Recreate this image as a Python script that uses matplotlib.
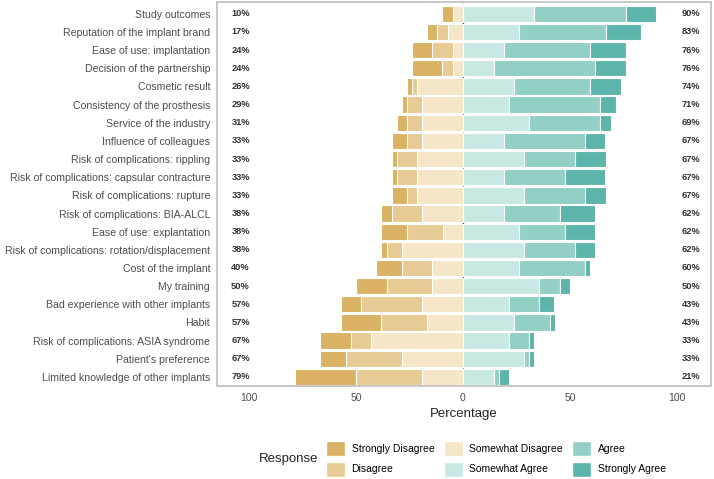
import numpy as np
import matplotlib
matplotlib.use('Agg')
import matplotlib.pyplot as plt
from matplotlib.patches import Patch

plt.rcParams['font.family'] = ['Liberation Sans', 'DejaVu Sans']

items = [
    'Study outcomes', 'Reputation of the implant brand', 'Ease of use: implantation',
    'Decision of the partnership', 'Cosmetic result', 'Consistency of the prosthesis',
    'Service of the industry', 'Influence of colleagues', 'Risk of complications: rippling',
    'Risk of complications: capsular contracture', 'Risk of complications: rupture',
    'Risk of complications: BIA-ALCL', 'Ease of use: explantation',
    'Risk of complications: rotation/displacement', 'Cost of the implant', 'My training',
    'Bad experience with other implants', 'Habit', 'Risk of complications: ASIA syndrome',
    "Patient's preference", 'Limited knowledge of other implants',
]

# percentages
strongly_disagree = [4.8, 4.8, 9.5, 14.3, 2.4, 2.4, 4.8, 7.1, 2.4, 2.4, 7.1,
                     4.8, 11.9, 2.4, 11.9, 14.3, 9.5, 19.0, 14.3, 11.9, 28.6]
disagree = [0.0, 4.8, 9.5, 4.8, 2.4, 7.1, 7.1, 7.1, 9.5, 9.5, 4.8,
            14.3, 16.7, 7.1, 14.3, 21.4, 28.6, 21.4, 9.5, 26.2, 31.0]
somewhat_disagree = [4.8, 7.1, 4.8, 4.8, 21.4, 19.0, 19.0, 19.0, 21.4, 21.4, 21.4,
                     19.0, 9.5, 28.6, 14.3, 14.3, 19.0, 16.7, 42.9, 28.6, 19.0]
somewhat_agree = [33.3, 26.2, 19.0, 14.3, 23.8, 21.4, 31.0, 19.0, 28.6, 19.0, 28.6,
                  19.0, 26.2, 28.6, 26.2, 35.7, 21.4, 23.8, 21.4, 28.6, 14.3]
agree = [42.9, 40.5, 40.5, 47.6, 35.7, 42.9, 33.3, 38.1, 23.8, 28.6, 28.6,
         26.2, 21.4, 23.8, 31.0, 9.5, 14.3, 16.7, 9.5, 2.4, 2.4]
strongly_agree = [14.3, 16.7, 16.7, 14.3, 14.3, 7.1, 4.8, 9.5, 14.3, 19.0, 9.5,
                  16.7, 14.3, 9.5, 2.4, 4.8, 7.1, 2.4, 2.4, 2.4, 4.8]
left_labels = ['10%', '17%', '24%', '24%', '26%', '29%', '31%', '33%', '33%', '33%', '33%',
               '38%', '38%', '38%', '40%', '50%', '57%', '57%', '67%', '67%', '79%']
right_labels = ['90%', '83%', '76%', '76%', '74%', '71%', '69%', '67%', '67%', '67%', '67%',
                '62%', '62%', '62%', '60%', '50%', '43%', '43%', '33%', '33%', '21%']

responses = ['Strongly Disagree', 'Disagree', 'Somewhat Disagree',
             'Somewhat Agree', 'Agree', 'Strongly Agree']
colors = ['#DAB263', '#E8CA94', '#F6E6C8', '#C8E8E4', '#92D0C6', '#5DB4AA']

fig = plt.figure(figsize=(7.14, 4.79), dpi=100)
ax = fig.add_axes([217 / 714, 93 / 479, 494 / 714, 384 / 479])

y = np.arange(len(items))[::-1]
h = 0.9
kw = dict(height=h, edgecolor='white', linewidth=0.8, zorder=2)

sd = np.array(strongly_disagree)
d = np.array(disagree)
smd = np.array(somewhat_disagree)
sma = np.array(somewhat_agree)
a = np.array(agree)
sa = np.array(strongly_agree)

ax.barh(y, -smd, left=0, color=colors[2], **kw)
ax.barh(y, -d, left=-smd, color=colors[1], **kw)
ax.barh(y, -sd, left=-smd - d, color=colors[0], **kw)
ax.barh(y, sma, left=0, color=colors[3], **kw)
ax.barh(y, a, left=sma, color=colors[4], **kw)
ax.barh(y, sa, left=sma + a, color=colors[5], **kw)

ax.axvline(0, color='#333333', lw=1.0, ls=(0, (1, 2)), zorder=1)

for yi, lt, rt in zip(y, left_labels, right_labels):
    ax.text(-104, yi, lt, ha='center', va='center', fontsize=6.7,
            fontweight='bold', color='#333333')
    ax.text(106.5, yi, rt, ha='center', va='center', fontsize=6.7,
            fontweight='bold', color='#333333')

ax.set_xlim(-115, 116)
ax.set_ylim(-0.5, 20.65)
ax.set_yticks(y)
ax.set_yticklabels(items, fontsize=7.6, color='#4D4D4D')
ax.set_xticks([-100, -50, 0, 50, 100])
ax.set_xticklabels(['100', '50', '0', '50', '100'], fontsize=7.5, color='#4D4D4D')
ax.tick_params(axis='both', length=0, pad=5)
ax.set_xlabel('Percentage', fontsize=9.5, color='#222222', labelpad=4)
for s in ax.spines.values():
    s.set_color('#C4C4C4')
    s.set_linewidth(1.3)

handles = [Patch(facecolor=c, edgecolor='white', label=r) for c, r in zip(colors, responses)]
fig.legend(handles=handles, ncol=3, loc='center left',
           bbox_to_anchor=(326 / 714, 1 - 459 / 479), frameon=False,
           fontsize=7.5, handlelength=1.85, handleheight=1.85,
           handletextpad=0.6, columnspacing=0.9, labelspacing=0.5,
           borderaxespad=0, borderpad=0)
fig.text(318 / 714, 1 - 459 / 479, 'Response', ha='right', va='center',
         fontsize=9.5, color='#222222')

plt.savefig('out.png', dpi=100)
